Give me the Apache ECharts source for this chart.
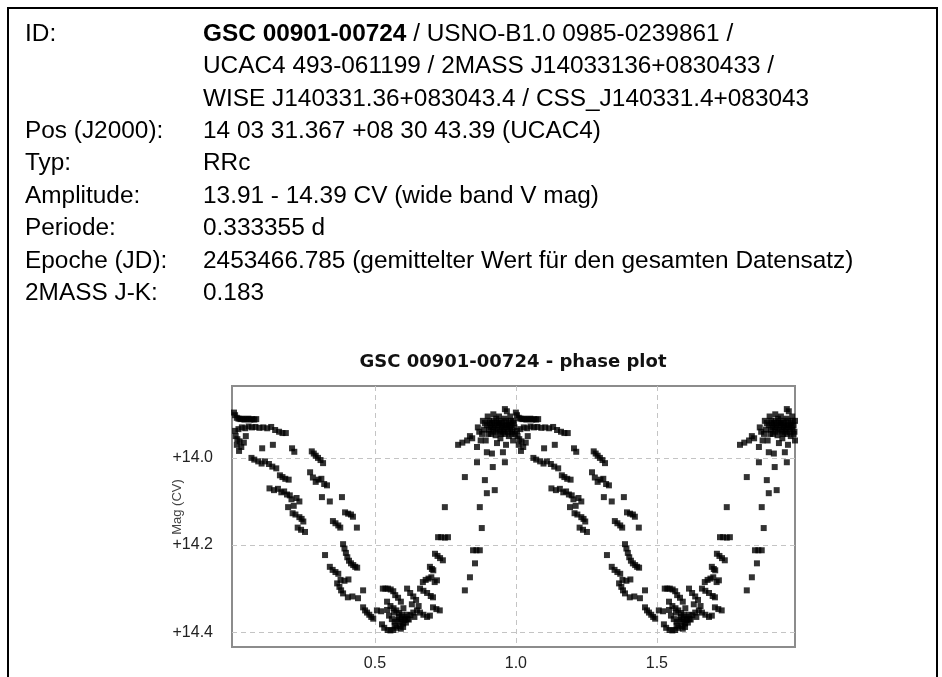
<!DOCTYPE html>
<html>
<head>
<meta charset="utf-8">
<script src="https://cdn.jsdelivr.net/npm/echarts@6/dist/echarts.min.js"></script>
<style>
html,body{margin:0;padding:0;background:#fff;}
#chart{width:942px;height:677px;}
</style>
</head>
<body>
<div id="chart"></div>
<script>
// ---- info table ----
var infoLabels = ["ID:", "", "", "Pos (J2000):", "Typ:", "Amplitude:", "Periode:", "Epoche (JD):", "2MASS J-K:"];
var infoValues = [
  "{b|GSC 00901-00724} / USNO-B1.0 0985-0239861 /",
  "UCAC4 493-061199 / 2MASS J14033136+0830433 /",
  "WISE J140331.36+083043.4 / CSS_J140331.4+083043",
  "14 03 31.367 +08 30 43.39 (UCAC4)",
  "RRc",
  "13.91 - 14.39 CV (wide band V mag)",
  "0.333355 d",
  "2453466.785 (gemittelter Wert für den gesamten Datensatz)",
  "0.183"
];
var chartTitle = "GSC 00901-00724 - phase plot";
var yAxisName = "Mag (CV)";
var xTicks = [0.5, 1.0, 1.5];
var yTicks = [14.0, 14.2, 14.4];

// ---- phase plot data (one cycle, phase 0..1) ----
var phase = [
  // top bar
  0.000,0.004,0.010,0.016,0.023,0.030,0.037,0.044,0.051,0.058,0.065,0.072,0.079,
  // row near 13.93
  0.004,0.016,0.028,0.040,0.052,0.064,0.076,0.090,0.104,0.118,0.132,0.146,0.160,0.172,0.184,
  0.006,0.012,0.020,0.010,0.026,0.018,0.042,0.035,
  // first descending branch
  0.100,0.138,0.206,0.214, 0.062,0.072,0.086,0.098,0.110,0.124,0.136,0.150,
  0.163,0.172,0.182,0.194, 0.126,0.142,0.156,0.168,0.178,0.188,0.198,
  0.204,0.222,0.232, 0.192,0.212, 0.208,0.218,0.232,0.240,0.246, 0.226,0.238,0.252,
  // second descending branch
  0.270, 0.276,0.283,0.290,0.298,0.307,0.316, 0.280,0.290,0.300,0.310,0.320,0.330,
  0.312,0.340,0.383, 0.351,0.360,0.370,0.377, 0.394,0.405,0.415,0.422, 0.436, 0.323,
  0.387,0.392,0.397,0.402,0.408,0.415,0.423,0.430,0.437, 0.340,0.350,0.360,0.370,
  0.366,0.374,0.380,0.387, 0.378,0.392,0.406, 0.404,0.420,0.440, 0.458,
  // minimum
  0.458,0.465,0.472,0.480,0.487,0.494, 0.507,0.522,0.543, 0.528,0.537,0.546,0.556,0.565,
  0.572,0.582,0.592, 0.525,0.533,0.545,0.555,0.565,0.576,0.588,
  0.543,0.555,0.566,0.576,0.586,0.596,0.606,0.616,0.626,0.636,
  0.550,0.560,0.570,0.580,0.590,0.600,0.610,0.620,
  0.614,0.625,0.636,0.646,0.631,0.601, 0.660,0.672,0.685,0.698,0.706,
  0.649,0.660,0.672,0.685,0.695, 0.706,0.718,0.730,
  0.670,0.680,0.690,0.700,0.712,0.720, 0.695,0.702,0.707,
  0.713,0.722,0.731,0.741, 0.724,0.735,0.748,0.759, 0.748,
  0.570,0.585,0.595,0.605,0.592,0.600,0.568,0.615,0.640,0.655,
  // rising branch
  0.819,0.837,0.855,0.848,0.860,0.872,0.879,0.872,0.897,0.925,0.890,0.918,0.915,0.961,0.862,0.819,
  // maximum cluster
  0.795,0.810,0.827,0.837,0.845,0.862,0.865,0.870,0.875,0.880,
  0.883,0.890,0.897,0.905,0.910,0.915,0.920,0.925,0.930,0.935,0.940,0.945,0.950,0.955,0.960,0.965,0.970,0.975,0.980,0.985,0.990,0.995,
  0.897,0.933,0.954,0.945,0.975,0.990,0.965, 0.961,0.968,
  0.900,0.920,0.940,0.960,0.980, 0.887,0.902,0.928,0.948,0.985,0.893,
  0.905,0.912,0.918,0.922,0.928,0.938,0.943,0.952,0.958,0.962,0.968,0.972,0.978,0.982,0.988,0.993,0.997,0.908,0.932,0.948
];
var mag = [
  13.896,13.902,13.908,13.910,13.911,13.910,13.912,13.911,13.910,13.912,13.911,13.912,13.911,
  13.938,13.934,13.930,13.932,13.928,13.930,13.929,13.931,13.930,13.932,13.929,13.936,13.940,13.943,13.943,
  13.950,13.957,13.962,13.970,13.975,13.984,13.950,13.965,
  13.978,13.970,13.978,13.986, 14.000,14.004,14.008,14.013,14.008,14.014,14.020,14.024,
  14.040,14.044,14.048,14.050, 14.070,14.074,14.071,14.079,14.077,14.084,14.086,
  14.095,14.092,14.100, 14.113,14.110, 14.127,14.130,14.136,14.140,14.146, 14.160,14.165,14.170,
  14.033, 13.985,13.990,13.995,14.000,14.005,14.012, 14.045,14.055,14.050,14.048,14.060,14.063,
  14.090,14.100,14.090, 14.145,14.150,14.155,14.160, 14.125,14.128,14.130,14.135, 14.160, 14.223,
  14.198,14.208,14.218,14.228,14.236,14.242,14.246,14.250,14.252, 14.250,14.257,14.262,14.266,
  14.288,14.296,14.304,14.311, 14.280,14.282,14.279, 14.320,14.318,14.322, 14.304,
  14.343,14.350,14.355,14.360,14.365,14.369, 14.350,14.352,14.349, 14.300,14.300,14.300,14.302,14.306,
  14.315,14.321,14.330, 14.382,14.390,14.395,14.396,14.395,14.390,14.386,
  14.330,14.340,14.345,14.350,14.356,14.360,14.365,14.370,14.361,14.355,
  14.362,14.370,14.376,14.371,14.376,14.380,14.378,14.371,
  14.300,14.310,14.318,14.326,14.336,14.345, 14.300,14.305,14.310,14.317,14.320,
  14.350,14.355,14.360,14.365,14.362, 14.343,14.347,14.350,
  14.285,14.280,14.277,14.274,14.285,14.281, 14.250,14.255,14.258,
  14.220,14.225,14.230,14.235, 14.182,14.182,14.183,14.182, 14.113,
  14.385,14.365,14.370,14.372,14.392,14.388,14.355,14.360,14.365,14.340,
  14.304,14.274,14.242,14.212,14.212,14.212,14.161,14.113,14.081,14.074,14.051,14.021,13.990,14.010,14.010,14.044,
  13.970,13.965,13.960,13.950,13.955,13.975,13.930,13.940,13.960,13.945,
  13.915,13.920,13.925,13.915,13.930,13.920,13.940,13.925,13.910,13.935,13.920,13.915,13.930,13.940,13.925,13.915,13.930,13.920,13.935,13.925,13.915,13.930,
  13.987,13.966,13.987,13.955,13.950,13.960,13.970, 13.888,13.893,
  13.905,13.900,13.905,13.910,13.905, 13.935,13.945,13.948,13.945,13.945,13.960,
  13.935,13.945,13.930,13.915,13.935,13.925,13.940,13.920,13.935,13.945,13.925,13.940,13.928,13.915,13.940,13.920,13.945,13.920,13.920,13.928
];

// phase plot shows each observation twice (phase and phase + 1)
var points = [];
for (var i = 0; i < phase.length; i++) {
  points.push([phase[i], mag[i]]);
  points.push([phase[i] + 1, mag[i]]);
}

var chart = echarts.init(document.getElementById('chart'), null, {renderer: 'canvas'});

var FONT = '"Liberation Sans", Arial, sans-serif';
var graphics = [
  {type: 'polyline', silent: true, z: 10,
   shape: {points: [[8, 700], [8, 8], [937, 8], [937, 700]]},
   style: {stroke: '#000', lineWidth: 2, fill: null}},
  {type: 'text', x: 177, y: 507, rotation: Math.PI / 2, silent: true,
   style: {text: yAxisName, font: '13px ' + FONT, fill: '#444', align: 'center', verticalAlign: 'middle'}}
];
for (var r = 0; r < infoLabels.length; r++) {
  var yy = 34 + r * 32.4;
  if (infoLabels[r]) {
    graphics.push({type: 'text', x: 25, y: yy, silent: true,
      style: {text: infoLabels[r], font: '24.4px ' + FONT, fill: '#000', verticalAlign: 'middle', align: 'left'}});
  }
  graphics.push({type: 'text', x: 203, y: yy, silent: true,
    style: {text: infoValues[r], font: '24.4px ' + FONT, fill: '#000', verticalAlign: 'middle', align: 'left',
      rich: {b: {fontWeight: 'bold', fontSize: 24.4, fontFamily: FONT}}}});
}

chart.setOption({
  backgroundColor: '#fff',
  animation: false,
  title: {
    text: chartTitle,
    left: 513, top: 353, textAlign: 'center', padding: 0,
    textStyle: {fontFamily: '"DejaVu Sans", sans-serif', fontWeight: 'bold', fontSize: 18, color: '#111'}
  },
  grid: {left: 232, top: 386, width: 563, height: 261, show: true, borderColor: '#8c8c8c', borderWidth: 2, backgroundColor: '#fff'},
  xAxis: {
    type: 'value', min: -0.007, max: 1.99,
    axisLine: {show: false},
    axisTick: {show: false, customValues: xTicks},
    axisLabel: {customValues: xTicks, margin: 9, color: '#222', fontFamily: FONT, fontSize: 16,
      formatter: function (v) { return v.toFixed(1); }},
    splitLine: {show: true, lineStyle: {color: '#c4c4c4', type: [5, 4], width: 1}}
  },
  yAxis: {
    type: 'value', inverse: true, min: 13.835, max: 14.434,
    axisLine: {show: false},
    axisTick: {show: false, customValues: yTicks},
    axisLabel: {customValues: yTicks, margin: 19, color: '#222', fontFamily: FONT, fontSize: 16,
      formatter: function (v) { return '+' + v.toFixed(1); }},
    splitLine: {show: true, lineStyle: {color: '#c4c4c4', type: [5, 4], width: 1}}
  },
  series: [{
    type: 'scatter',
    data: points,
    symbol: 'rect',
    symbolSize: 6,
    itemStyle: {color: '#000'},
    clip: true
  }],
  graphic: graphics
});
</script>
</body>
</html>
